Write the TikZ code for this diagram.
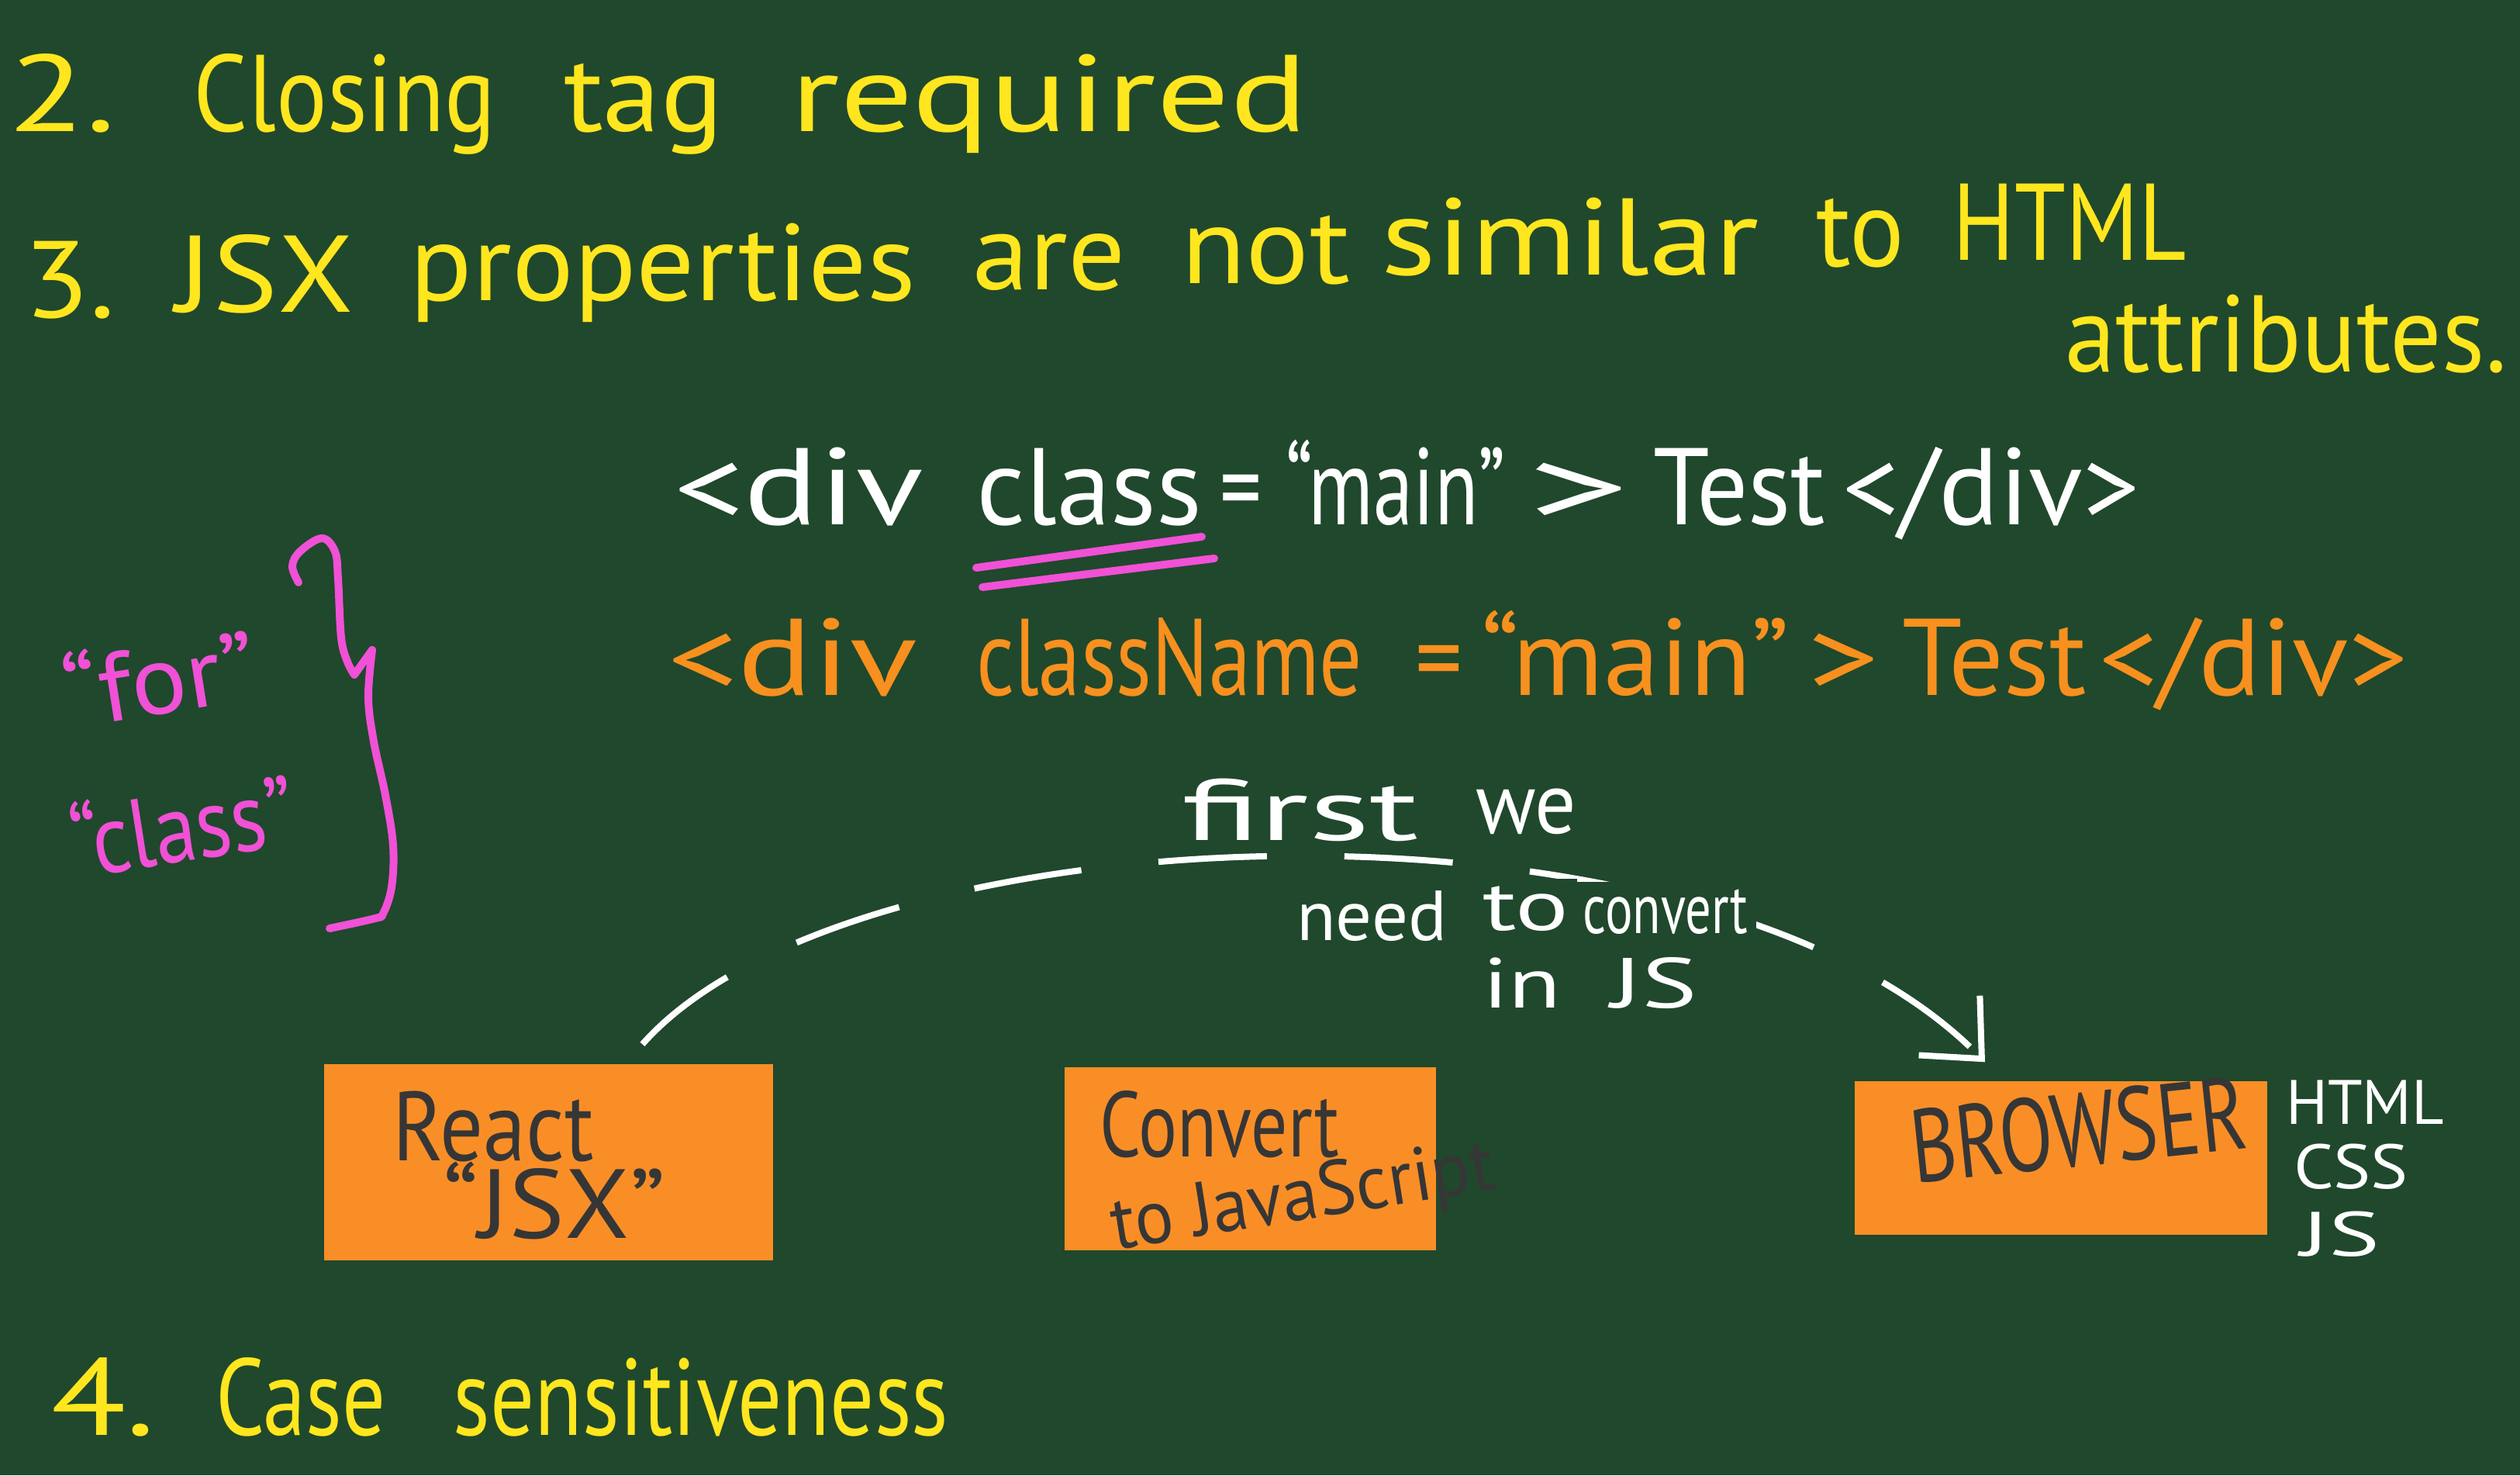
\documentclass[tikz,border=0pt]{standalone}
\usepackage{fontspec}
\usepackage{graphicx}
\setmainfont{PT Sans}
\usetikzlibrary{arrows.meta}
\definecolor{board}{HTML}{20482C}
\definecolor{yel}{HTML}{FFE61E}
\definecolor{org}{HTML}{F7901E}
\definecolor{boxorg}{HTML}{F98E27}
\definecolor{pnk}{HTML}{F051D6}
\definecolor{ink}{HTML}{363636}
\newcommand\fitw[2]{\resizebox{#1cm}{\height}{#2}}
\tikzset{
  txt/.style={inner sep=0pt, anchor=base},
  yl/.style={txt, text=yel, font=\fontsize{40}{48}\selectfont},
  wh/.style={txt, text=white, font=\fontsize{40}{48}\selectfont},
  og/.style={txt, text=org, font=\fontsize{40}{48}\selectfont},
  note/.style={txt, inner sep=3pt, fill=board, text=white, font=\fontsize{32}{38}\selectfont},
  note2/.style={note, font=\fontsize{26}{32}\selectfont},
  side/.style={txt, text=white, font=\fontsize{23}{26}\selectfont},
  pk/.style={inner sep=0pt, anchor=center, text=pnk, font=\fontsize{36}{42}\selectfont, rotate=9},
  stickybox/.style={fill=boxorg, draw=none, inner sep=0pt},
  boxtxt/.style={txt, text=ink, font=\fontsize{36}{42}\selectfont},
  conn/.style={white, line width=0.08cm, dash pattern=on 1.4cm off 1cm,
    -{Straight Barb[length=6mm,width=11mm,line width=0.08cm]}},
  pinkstroke/.style={pnk, line width=0.1cm, line cap=round, line join=round}
}
\begin{document}
\begin{tikzpicture}
\fill[board] (0,0) rectangle (32.5,19.02);
\useasboundingbox (0,0) rectangle (32.5,19.02);

% line 2.
\node[yl] (l1a) at (0.80,17.32) {\fitw{1.39}{2.}};
\node[yl] (l1b) at (4.45,17.32) {\fitw{3.90}{Closing}};
\node[yl] (l1c) at (8.30,17.32) {\fitw{2.06}{tag}};
\node[yl] (l1d) at (13.53,17.32) {\fitw{6.67}{required}};

% line 3.
\node[yl] (l2a) at (0.90,14.92) {\fitw{1.19}{3.}};
\node[yl] (l2b) at (3.42,14.99) {\fitw{2.28}{JSX}};
\node[yl] (l2c) at (8.55,15.14) {\fitw{6.53}{properties}};
\node[yl] (l2d) at (13.53,15.28) {\fitw{1.97}{are}};
\node[yl] (l2e) at (16.32,15.36) {\fitw{2.18}{not}};
\node[yl] (l2f) at (20.25,15.47) {\fitw{4.87}{similar}};
\node[yl] (l2g) at (23.99,15.58) {\fitw{1.14}{to}};
\node[yl] (l2h) at (26.69,15.66) {\fitw{3.01}{HTML}};
\node[yl] (l2i) at (29.48,14.22) {\fitw{5.70}{attributes.}};

% white html line
\node[wh] (w1) at (10.30,12.25) {\fitw{3.21}{<div}};
\node[wh] (w2) at (14.05,12.25) {\fitw{2.91}{class}};
\node[wh] (w3) at (16.00,12.25) {\fitw{0.54}{=}};
\node[wh] (w4) at (18.00,12.25) {\fitw{2.83}{“main”}};
\node[wh] (w5) at (20.36,12.25) {\fitw{1.31}{>}};
\node[wh] (w6) at (22.43,12.25) {\fitw{2.22}{Test}};
\node[wh] (w7) at (25.68,12.25) {\fitw{3.83}{</div>}};

% pink underline of class
\draw[pinkstroke] (12.59,11.70) -- (15.50,12.10);
\draw[pinkstroke] (12.67,11.45) -- (15.66,11.82);

% orange jsx line
\node[og] (o1) at (10.22,10.05) {\fitw{3.22}{<div}};
\node[og] (o2) at (15.08,10.05) {\fitw{4.98}{className}};
\node[og] (o3) at (18.56,10.05) {\fitw{0.61}{=}};
\node[og] (o4) at (21.09,10.05) {\fitw{3.98}{“main”}};
\node[og] (o5) at (23.77,10.05) {\fitw{0.92}{>}};
\node[og] (o6) at (25.72,10.05) {\fitw{2.37}{Test}};
\node[og] (o7) at (29.06,10.05) {\fitw{3.98}{</div>}};

% pink notes and brace
\node[pk] (pfor) at (2.05,10.30) {\fitw{2.50}{“for”}};
\node[pk] (pclass) at (2.35,8.40) {\fitw{2.90}{“class”}};
\draw[pinkstroke] plot[smooth, tension=0.6] coordinates {(3.85,11.51) (3.77,11.72) (3.87,11.91) (4.15,12.08) (4.32,11.91) (4.36,11.56) (4.40,10.80) (4.48,10.49) (4.57,10.32)}
  -- (4.80,10.64);
\draw[pinkstroke] plot[smooth, tension=0.6] coordinates {(4.80,10.64) (4.75,10.03) (4.82,9.46) (4.97,8.77) (5.07,8.12) (5.05,7.58) (4.94,7.24) (4.84,7.18) (4.25,7.05)};

% boxes
\node[stickybox, minimum width=5.79cm, minimum height=2.53cm] (react) at (7.075,4.035) {};
\node[stickybox, minimum width=4.79cm, minimum height=2.36cm] (convert) at (16.125,4.08) {};
\node[stickybox, minimum width=5.32cm, minimum height=1.98cm] (browser) at (26.58,4.09) {};

% connector (drawn beneath the note)
\draw[conn] ([xshift=1.21cm,yshift=0.25cm]react.north) .. controls (11.00,8.62) and (22.00,9.02) .. ([xshift=-0.98cm,yshift=0.24cm]browser.north);

% white note
\node[note] (n1) at (16.77,8.18) {\fitw{3.06}{first}};
\node[note] (n2) at (19.68,8.27) {\fitw{1.30}{we}};
\node[note2] (n3) at (17.69,6.89) {\fitw{1.94}{need}};
\node[note2] (n4) at (19.68,7.02) {\fitw{1.11}{to}};
\node[note2] (n5) at (21.48,6.98) {\fitw{2.13}{convert}};
\node[note2] (n6) at (19.63,6.02) {\fitw{1.01}{in}};
\node[note2] (n7) at (21.34,6.02) {\fitw{1.11}{JS}};

\node[boxtxt] (t1) at (6.36,4.05) {\fitw{2.59}{React}};
\node[boxtxt] (t2) at (7.15,3.05) {\fitw{2.87}{“JSX”}};
\node[boxtxt, font=\fontsize{34}{40}\selectfont] (t3) at (15.73,4.10) {\fitw{3.09}{Convert}};
\node[boxtxt, font=\fontsize{28}{34}\selectfont, rotate=9] (t4) at (16.85,3.30) {\fitw{5.00}{to JavaScript}};
\node[boxtxt, font=\fontsize{38}{44}\selectfont, rotate=6] (t5) at (26.85,3.99) {\fitw{4.34}{BROWSER}};

\node[side] (h1) at (30.50,4.52) {\fitw{2.04}{HTML}};
\node[side] (h2) at (30.32,3.69) {\fitw{1.48}{CSS}};
\node[side] (h3) at (30.18,2.82) {\fitw{1.02}{JS}};

% line 4.
\node[yl] (l4a) at (1.33,0.52) {\fitw{1.34}{4.}};
\node[yl] (l4b) at (3.88,0.52) {\fitw{2.19}{Case}};
\node[yl] (l4c) at (9.04,0.52) {\fitw{6.38}{sensitiveness}};
\end{tikzpicture}
\end{document}
